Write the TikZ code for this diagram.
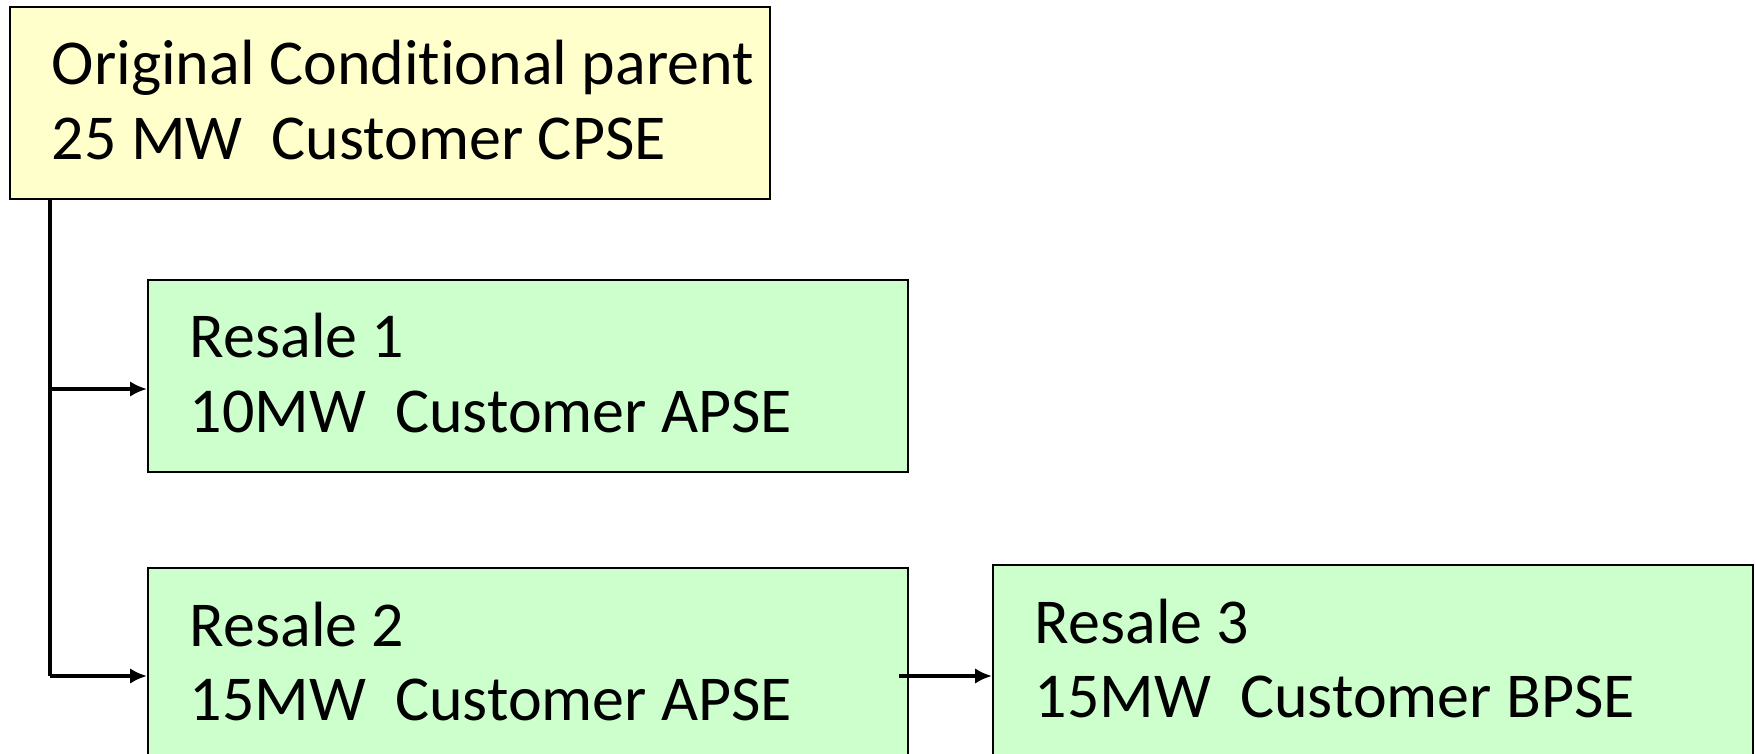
\documentclass[tikz,border=0pt]{standalone}
\usepackage{fontspec}
\setmainfont{Carlito}[Ligatures=NoCommon]
\usetikzlibrary{arrows.meta}

\begin{document}
\begin{tikzpicture}[>={Latex[length=4.8pt,width=4.4pt]},line width=1.05pt,
  kasten/.style={draw,line width=0.6pt,anchor=north west,inner sep=0pt,
    minimum width=7.60cm,minimum height=1.92cm},
  schrift/.style={anchor=base west,inner sep=0pt,align=flush left,text width=7.1cm,
    font=\fontsize{18.2}{21.3}\selectfont}]

\definecolor{hellgelb}{rgb}{1,1,0.8}
\definecolor{hellgruen}{rgb}{0.8,1,0.8}
\useasboundingbox (0,0) rectangle (17.56,-7.54);

% Kasten: Name, x, y, Farbe, Text
\def\kasten#1#2#3#4#5{
\node[kasten,fill=#4] (#1) at (#2,#3) {};
\node[schrift] (#1text) at ([xshift=0.41cm,yshift=-0.79cm]#1.north west) {#5};
}

\kasten{eltern}{0.09}{-0.06}{hellgelb}{Original Conditional parent\\25 MW\ \ Customer CPSE}
\kasten{resale1}{1.47}{-2.79}{hellgruen}{Resale 1\\10MW\ \ Customer APSE}
\kasten{resale2}{1.47}{-5.67}{hellgruen}{Resale 2\\15MW\ \ Customer APSE}
\kasten{resale3}{9.92}{-5.64}{hellgruen}{Resale 3\\15MW\ \ Customer BPSE}

\coordinate (abzweig1) at (0.50,-3.89);
\coordinate (abzweig2) at (0.50,-6.76);
\coordinate (weiter)   at (8.99,-6.76);

\draw (eltern.south -| abzweig1) -- (abzweig2);
\draw[->] (abzweig1) -- (abzweig1 -| resale1.west);
\draw[->] (abzweig2) -- (abzweig2 -| resale2.west);
\draw[->] (weiter) -- (weiter -| resale3.west);

\end{tikzpicture}
\end{document}
